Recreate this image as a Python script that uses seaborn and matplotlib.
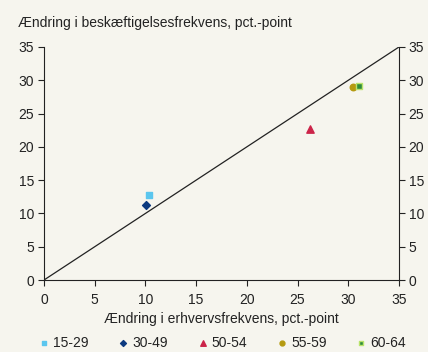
import matplotlib
matplotlib.use("Agg")
import matplotlib.pyplot as plt
import seaborn as sns
import pandas as pd

# Age groups and changes (percentage points)
groups = ["15-29", "30-49", "50-54", "55-59", "60-64"]
erhverv = [10.4, 10.1, 26.2, 30.5, 31.1]
beskaeft = [12.7, 11.2, 22.7, 29.0, 29.1]

colors = ["#5bc6ee", "#0c3a80", "#cc2449", "#b59a10", "#2e8b3c"]
edges = ["#5bc6ee", "#0c3a80", "#cc2449", "#b59a10", "#b9e36b"]
markers = ["s", "D", "^", "o", "s"]
sizes = [20, 16, 28, 22, 20]

ticks = [0, 5, 10, 15, 20, 25, 30, 35]

df = pd.DataFrame({"group": groups, "x": erhverv, "y": beskaeft})

sns.set_theme(style="white")
plt.rcParams["font.family"] = ["Liberation Sans", "DejaVu Sans"]
bg = "#f6f5ee"
fs = 10

fig = plt.figure(figsize=(4.28, 3.52), dpi=100, facecolor=bg)
ax = fig.add_axes([0.1028, 0.2045, 0.8294, 0.662])
ax.set_facecolor(bg)

# 45-degree reference line
ax.plot([0, 35], [0, 35], color="#222222", lw=0.9, zorder=1)

for g, c, ec, m, s in zip(groups, colors, edges, markers, sizes):
    sub = df[df["group"] == g]
    sns.scatterplot(data=sub, x="x", y="y", ax=ax, marker=m, s=s, color=c,
                    edgecolor=ec, linewidth=1.0, label=g, zorder=3)

ax.set_xlim(0, 35)
ax.set_ylim(0, 35)
ax.set_xticks(ticks)
ax.set_yticks(ticks)
ax.tick_params(axis="both", labelsize=fs, colors="#222222", length=4,
               width=0.8, direction="out", pad=3)
ax.tick_params(axis="y", right=True, labelright=True, left=True)
ax.tick_params(axis="x", bottom=True, pad=5)
for side in ["left", "right", "bottom"]:
    ax.spines[side].set_visible(True)
    ax.spines[side].set_color("#222222")
    ax.spines[side].set_linewidth(0.8)
ax.spines["top"].set_visible(False)

ax.set_xlabel("Ændring i erhvervsfrekvens, pct.-point", fontsize=fs,
              color="#222222", labelpad=4)
ax.set_ylabel("")
fig.text(0.042, 0.935, "Ændring i beskæftigelsesfrekvens, pct.-point",
         fontsize=fs, color="#222222", va="center", ha="left")

ax.legend(loc="upper center", bbox_to_anchor=(0.502, -0.24), ncol=5, frameon=False,
          fontsize=fs, handlelength=0.8, handletextpad=0.25, columnspacing=2.1,
          markerscale=0.75, labelcolor="#222222", borderaxespad=0, borderpad=0)

fig.savefig("out.png", dpi=100, facecolor=bg)
